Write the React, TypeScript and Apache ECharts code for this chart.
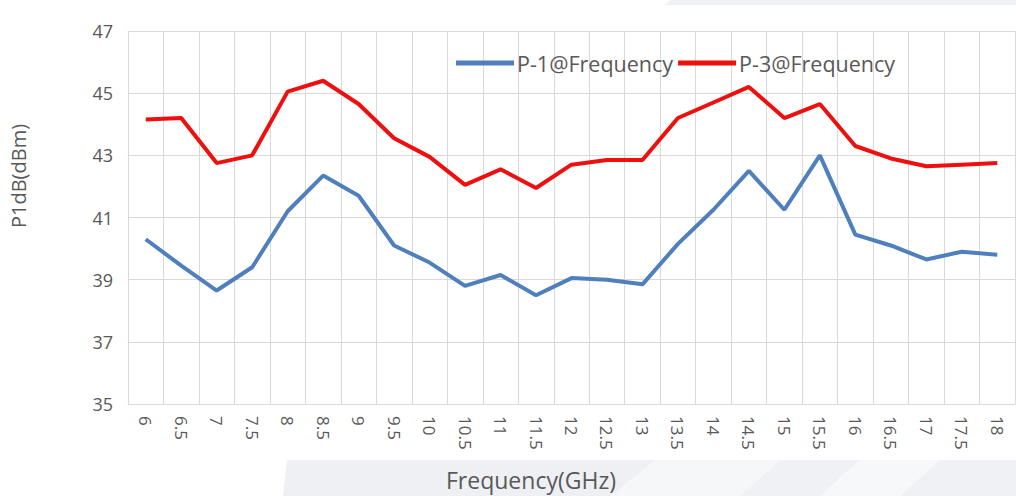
import React, { useEffect, useRef } from "react";
import * as echarts from "echarts";

const categories = ["6","6.5","7","7.5","8","8.5","9","9.5","10","10.5","11","11.5","12","12.5","13","13.5","14","14.5","15","15.5","16","16.5","17","17.5","18"];
const p1Values = [40.3,39.45,38.65,39.4,41.2,42.35,41.7,40.1,39.55,38.8,39.15,38.5,39.05,39.0,38.85,40.15,41.25,42.5,41.25,43.0,40.45,40.1,39.65,39.9,39.8];
const p3Values = [44.15,44.2,42.75,43.0,45.05,45.4,44.65,43.55,42.95,42.05,42.55,41.95,42.7,42.85,42.85,44.2,44.7,45.2,44.2,44.65,43.3,42.9,42.65,42.7,42.75];
const seriesNames = ["P-1@Frequency", "P-3@Frequency"];
const yTitle = "P1dB(dBm)";
const xTitle = "Frequency(GHz)";

const FONT = "'Open Sans', 'Noto Sans', sans-serif";
const TEXT = "#595959";
const GRID = "#d9d9d9";

export default function App() {
  const ref = useRef<HTMLDivElement>(null);
  useEffect(() => {
    document.body.style.margin = "0";
    const chart = echarts.init(ref.current!, null, { renderer: "svg" });
    chart.setOption({
      animation: false,
      backgroundColor: "#ffffff",
      textStyle: { fontFamily: FONT },
      grid: { left: 128, right: 1, top: 31, bottom: 92, containLabel: false },
      legend: {
        data: seriesNames,
        top: 47,
        left: 451,
        icon: "rect",
        itemWidth: 58,
        itemHeight: 5,
        itemGap: 5,
        textStyle: { color: TEXT, fontSize: 21.5, fontFamily: FONT, padding: [0, 0, 0, -2] },
      },
      graphic: [
        { type: "polygon", z: -10, silent: true, shape: { points: [[672, 0], [1016, 0], [1016, 5], [664, 5]] }, style: { fill: "#eef0f4" } },
        { type: "polygon", z: -10, silent: true, shape: { points: [[287, 460], [655, 460], [612, 496], [283, 496]] }, style: { fill: "#eef0f4" } },
        { type: "polygon", z: -10, silent: true, shape: { points: [[655, 460], [780, 460], [740, 496], [612, 496]] }, style: { fill: "#f6f7f9" } },
        { type: "polygon", z: -10, silent: true, shape: { points: [[780, 460], [860, 460], [820, 496], [740, 496]] }, style: { fill: "#f0f1f5" } },
        { type: "polygon", z: -10, silent: true, shape: { points: [[860, 460], [940, 460], [900, 496], [820, 496]] }, style: { fill: "#f7f8fa" } },
        { type: "polygon", z: -10, silent: true, shape: { points: [[940, 460], [1016, 460], [1016, 496], [900, 496]] }, style: { fill: "#f0f1f5" } },
        { type: "text", x: 446, y: 480, style: { text: xTitle, fill: TEXT, fontSize: 23, fontFamily: FONT, verticalAlign: "middle" } },
        { type: "text", x: 8, y: 176, rotation: Math.PI / 2, style: { text: yTitle, fill: TEXT, fontSize: 20, fontFamily: FONT, align: "center", verticalAlign: "top" } },
      ],
      xAxis: {
        type: "category",
        data: categories,
        boundaryGap: true,
        axisLine: { show: true, lineStyle: { color: GRID, width: 1 } },
        axisTick: { show: false },
        splitLine: { show: true, interval: 0, lineStyle: { color: GRID, width: 1 } },
        axisLabel: { interval: 0, rotate: -90, margin: 12, color: TEXT, fontSize: 17, fontFamily: FONT },
      },
      yAxis: {
        type: "value",
        min: 35,
        max: 47,
        interval: 1,
        axisLine: { show: false },
        axisTick: { show: false },
        splitLine: { show: true, lineStyle: { color: [GRID, "rgba(0,0,0,0)"], width: 1 } },
        axisLabel: {
          margin: 15,
          color: TEXT,
          fontSize: 18,
          fontFamily: FONT,
          formatter: (v: number) => (Math.round(v) % 2 === 1 ? String(v) : ""),
        },
      },
      series: [
        { name: seriesNames[0], type: "line", data: p1Values, symbol: "none", lineStyle: { color: "#4f7fbc", width: 4 }, itemStyle: { color: "#4f7fbc" } },
        { name: seriesNames[1], type: "line", data: p3Values, symbol: "none", lineStyle: { color: "#ee0f0f", width: 4 }, itemStyle: { color: "#ee0f0f" } },
      ],
    });
    return () => chart.dispose();
  }, []);
  return <div ref={ref} style={{ width: 1016, height: 496 }} />;
}
